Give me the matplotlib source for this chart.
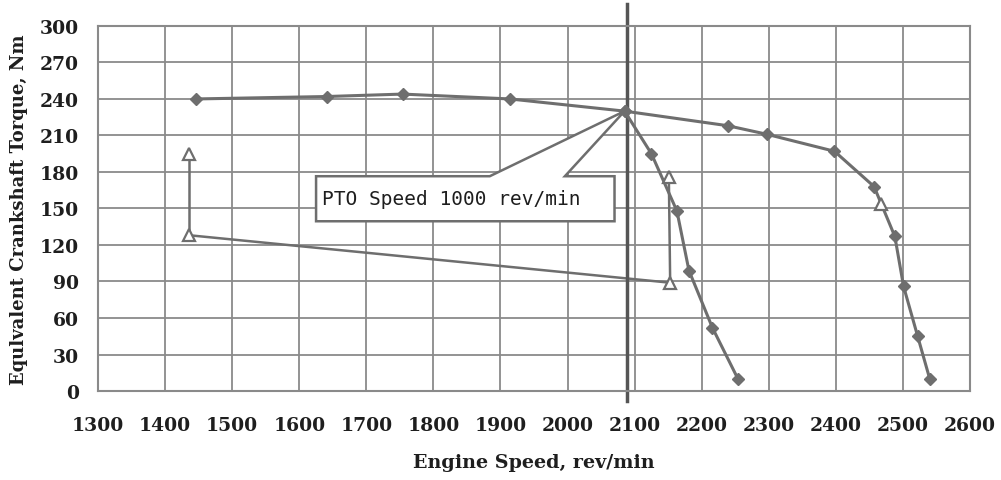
import matplotlib
matplotlib.use('Agg')
import matplotlib.pyplot as plt
from matplotlib.patches import Polygon

# full-load torque curve (diamonds)
full_speed = [1446, 1641, 1754, 1914, 2085, 2239, 2297, 2398, 2457, 2488, 2501, 2522, 2540]
full_torque = [240, 242, 244, 240, 230, 218, 211, 197, 168, 127, 86, 45, 10]

# PTO governor curve (diamonds)
pto_speed = [2085, 2125, 2163, 2181, 2216, 2254]
pto_torque = [230, 195, 148, 99, 52, 10]

# test points (open triangles)
tri_a_speed = [1436, 1436]
tri_a_torque = [195, 128]
tri_b_speed = [2151, 2153]
tri_b_torque = [176, 89]
tri_c_speed = [2468]
tri_c_torque = [154]

rated_speed = 2088
pto_label = 'PTO Speed 1000 rev/min'

x_ticks = list(range(1300, 2601, 100))
y_ticks = list(range(0, 301, 30))

col = '#6e6e6e'
grid_col = '#8a8a8a'
txt_col = '#1e1e1e'
plt.rcParams['font.family'] = ['DejaVu Serif']

fig = plt.figure(figsize=(10.01, 4.81), dpi=100)
ax = fig.add_axes([0.098, 0.185, 0.871, 0.759])

ax.set_xlim(1300, 2600)
ax.set_ylim(0, 300)
ax.set_xticks(x_ticks)
ax.set_yticks(y_ticks)
ax.grid(True, color=grid_col, linewidth=1.3)
ax.set_axisbelow(True)
for s in ax.spines.values():
    s.set_color(grid_col)
    s.set_linewidth(1.5)
ax.tick_params(length=0, labelsize=13.5, colors=txt_col)
ax.tick_params(axis='x', pad=18)
ax.tick_params(axis='y', pad=14)
for lab in ax.get_xticklabels() + ax.get_yticklabels():
    lab.set_fontweight('bold')

# connecting lines between test points
ax.plot([tri_a_speed[1], tri_b_speed[1]], [tri_a_torque[1], tri_b_torque[1]], color=col, lw=1.8)
ax.plot(tri_a_speed, tri_a_torque, color=col, lw=1.8)
ax.plot(tri_b_speed, tri_b_torque, color=col, lw=1.8)

# curves
ax.plot(full_speed, full_torque, color=col, lw=2.2, marker='D', ms=6.5, zorder=3)
ax.plot(pto_speed, pto_torque, color=col, lw=2.2, marker='D', ms=6.5, zorder=3)

for xs, ys in [(tri_a_speed, tri_a_torque), (tri_b_speed, tri_b_torque), (tri_c_speed, tri_c_torque)]:
    ax.plot(xs, ys, ls='none', marker='^', ms=8, mfc='white', mec=col, mew=1.6, zorder=4)

# vertical line at rated speed
ax.axvline(rated_speed, ymin=-0.027, ymax=1.06, color='#555555', lw=2.5, clip_on=False, zorder=2)

# callout box
tip_x, tip_y = full_speed[4], full_torque[4]
box = Polygon([(1625, 139.5), (1625, 176.5), (1884, 176.5), (tip_x, tip_y),
               (1996, 176.5), (2070, 176.5), (2070, 139.5)],
              closed=True, facecolor='white', edgecolor=col, lw=1.8, zorder=5)
ax.add_patch(box)
ax.text(1634, 158, pto_label, fontsize=14, family='DejaVu Sans Mono', va='center',
        ha='left', color=txt_col, zorder=6)

ax.set_xlabel('Engine Speed, rev/min', fontsize=13.8, fontweight='bold', labelpad=14, color=txt_col)
ax.set_ylabel('Equlvalent Crankshaft Torque, Nm', fontsize=13, fontweight='bold', labelpad=8,
              color=txt_col)

fig.savefig('out.png', dpi=100)
